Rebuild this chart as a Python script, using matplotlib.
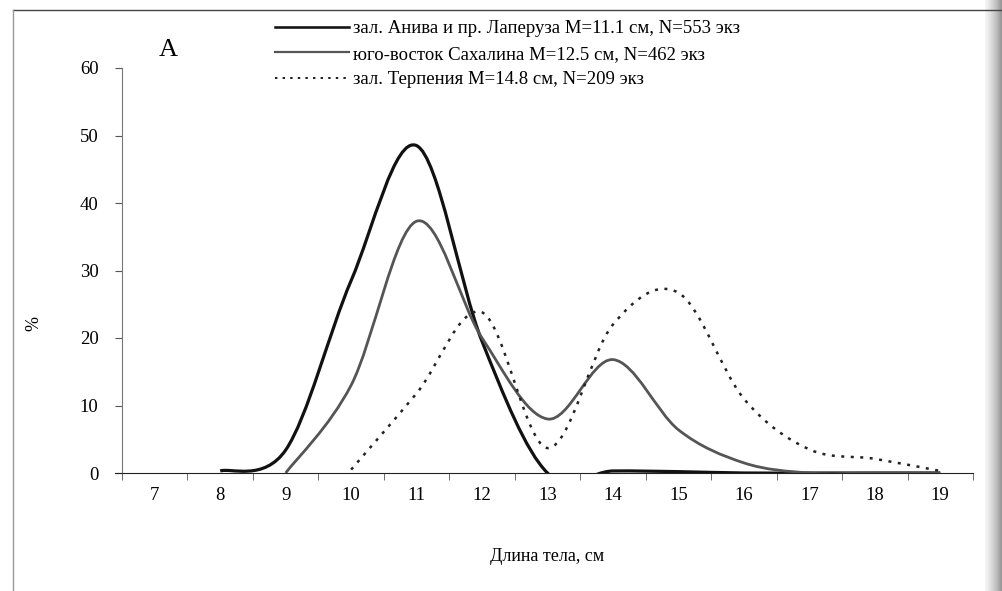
import numpy as np
import matplotlib
matplotlib.use('Agg')
import matplotlib.pyplot as plt
from matplotlib.path import Path
from matplotlib.patches import PathPatch
from matplotlib.lines import Line2D

plt.rcParams['font.family'] = ['Liberation Serif', 'DejaVu Serif']

# длина тела, см (категории)
lengths = [7, 8, 9, 10, 11, 12, 13, 14, 15, 16, 17, 18, 19]
# доля, %  (nan - нет точки)
aniva = [np.nan, 0.3, 3.4, 28.5, 48.5, 19.5, 0.0, 0.3, 0.2, 0.0, 0.0, 0.0, 0.0]
sakhalin = [np.nan, np.nan, 0.0, 13.0, 37.3, 20.0, 8.0, 16.8, 6.4, 1.5, 0.0, 0.0, 0.0]
terpenia = [np.nan, np.nan, np.nan, 0.5, 11.8, 23.8, 3.7, 22.0, 26.7, 11.0, 3.5, 2.1, 0.3]

labels = ['зал. Анива и пр. Лаперуза M=11.1 см, N=553 экз',
          'юго-восток Сахалина M=12.5 см, N=462 экз',
          'зал. Терпения M=14.8 см, N=209 экз']


def smooth_path(x, y):
    # сглаженная линия как в Excel: кривые Безье через точки
    x = np.asarray(x, float)
    y = np.asarray(y, float)
    ok = ~np.isnan(y)
    p = np.column_stack([x[ok], y[ok]])
    n = len(p)
    verts = [p[0]]
    codes = [Path.MOVETO]
    for i in range(n - 1):
        p0 = p[i - 1] if i > 0 else p[i]
        p3 = p[i + 2] if i + 2 < n else p[i + 1]
        c1 = p[i] + (p[i + 1] - p0) / 6.0
        c2 = p[i + 1] - (p3 - p[i]) / 6.0
        verts += [c1, c2, p[i + 1]]
        codes += [Path.CURVE4] * 3
    return Path(verts, codes)


fig = plt.figure(figsize=(10.02, 5.91), dpi=100)
ax = fig.add_axes([122 / 1002, 1 - 473 / 591, 851 / 1002, 405 / 591])

styles = [dict(color='#111111', lw=2.3, ls='-'),
          dict(color='#555555', lw=2.0, ls='-'),
          dict(color='#222222', lw=1.8, ls=(0, (1.2, 2.6)))]
series = [aniva, sakhalin, terpenia]
for vals, st in zip(series, styles):
    patch = PathPatch(smooth_path(lengths, vals), facecolor='none',
                      edgecolor=st['color'], lw=st['lw'], ls=st['ls'],
                      transform=ax.transData)
    ax.add_patch(patch)

ax.set_xlim(6.5, 19.5)
ax.set_ylim(0, 60)
ax.set_xticks(lengths)
ax.set_xticklabels([str(v) for v in lengths])
ax.set_xticks(np.arange(6.5, 20, 1), minor=True)
ax.set_yticks(np.arange(0, 61, 10))
ax.tick_params(axis='x', which='major', length=0, pad=10, labelsize=13.5)
ax.tick_params(axis='x', which='minor', length=5, direction='out', color='#555555')
ax.tick_params(axis='y', length=5, direction='out', pad=12, labelsize=13.5, color='#555555')
for s in ['top', 'right']:
    ax.spines[s].set_visible(False)
ax.spines['left'].set_color('#777777')
ax.spines['bottom'].set_color('#222222')
ax.spines['bottom'].set_bounds(6.5 - 0.1, 19.5)

ax.set_xlabel('Длина тела, см', fontsize=13, labelpad=32)
ax.set_ylabel('%', fontsize=13)
ax.yaxis.set_label_coords(-0.094, 0.37)

handles = [Line2D([], [], color=st['color'], lw=st['lw'] * 0.8, ls=st['ls']) for st in styles]
fig.legend(handles, labels, loc='upper left', bbox_to_anchor=(275 / 1002, 1 - 20 / 591),
           frameon=False, fontsize=13.5, handlelength=3.95, handletextpad=0.2,
           borderpad=0, borderaxespad=0, labelspacing=0.45)

fig.text(168 / 1002, 1 - 50 / 591, 'A', fontsize=19, ha='center', va='center')

# рамка страницы (скан)
fig.add_artist(Line2D([13 / 1002, 1], [1 - 10 / 591, 1 - 10 / 591], color='#444444', lw=1))
fig.add_artist(Line2D([13 / 1002, 13 / 1002], [0, 1 - 10 / 591], color='#999999', lw=1))
# тень у правого края скана
shade = fig.add_axes([985 / 1002, 0, 17 / 1002, 1])
shade.imshow(np.linspace(0, 1, 17)[None, :], cmap='Greys', vmin=-0.2, vmax=2.2,
             aspect='auto', extent=(0, 1, 0, 1))
shade.axis('off')

fig.savefig('out.png', dpi=100)
